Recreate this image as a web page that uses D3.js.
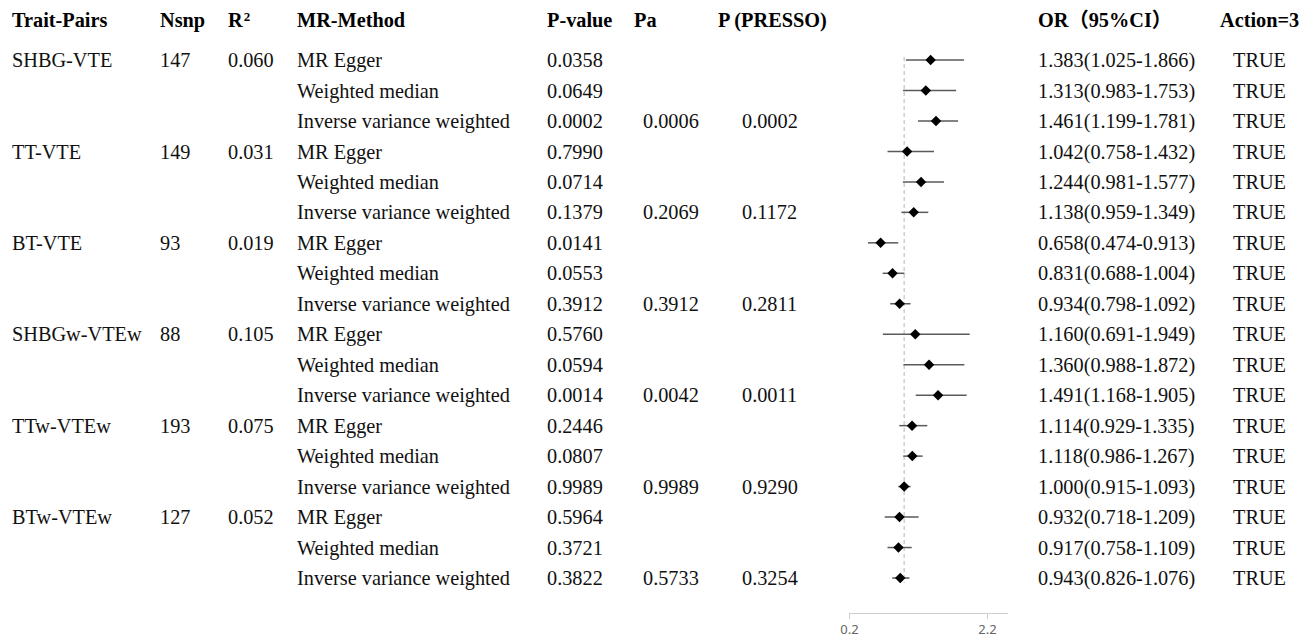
<!DOCTYPE html>
<html>
<head>
<meta charset="utf-8">
<script src="https://cdn.jsdelivr.net/npm/d3@7"></script>
<style>
  body { margin: 0; background: #fff; }
  svg { display: block; }
</style>
</head>
<body>
<div id="chart-container"></div>
<script>
const traitPairs = ["SHBG-VTE", "TT-VTE", "BT-VTE", "SHBGw-VTEw", "TTw-VTEw", "BTw-VTEw"];
const nsnp = ["147", "149", "93", "88", "193", "127"];
const r2 = ["0.060", "0.031", "0.019", "0.105", "0.075", "0.052"];
const methods = ["MR Egger", "Weighted median", "Inverse variance weighted"];
const pValues = ["0.0358","0.0649","0.0002","0.7990","0.0714","0.1379","0.0141","0.0553","0.3912",
                 "0.5760","0.0594","0.0014","0.2446","0.0807","0.9989","0.5964","0.3721","0.3822"];
const pa = ["0.0006", "0.2069", "0.3912", "0.0042", "0.9989", "0.5733"];
const presso = ["0.0002", "0.1172", "0.2811", "0.0011", "0.9290", "0.3254"];
const orValues = [1.383,1.313,1.461,1.042,1.244,1.138,0.658,0.831,0.934,1.160,1.360,1.491,1.114,1.118,1.000,0.932,0.917,0.943];
const ciLower = [1.025,0.983,1.199,0.758,0.981,0.959,0.474,0.688,0.798,0.691,0.988,1.168,0.929,0.986,0.915,0.718,0.758,0.826];
const ciUpper = [1.866,1.753,1.781,1.432,1.577,1.349,0.913,1.004,1.092,1.949,1.872,1.905,1.335,1.267,1.093,1.209,1.109,1.076];
const action = "TRUE";
const axisTicks = [0.2, 2.2];

const chartWidth = 1309;
const chartHeight = 641;
const serif = "'Liberation Serif', 'Times New Roman', 'Noto Sans CJK SC', serif";

const svg = d3.select("#chart-container")
    .append("svg")
    .attr("width", chartWidth)
    .attr("height", chartHeight)
    .style("font-family", serif)
    .style("font-size", "20.3px");

// one row per trait-pair x method
const rows = [];
traitPairs.forEach((tp, i) => {
    methods.forEach((m, j) => {
        const k = i * 3 + j;
        rows.push({
            pair: j === 0 ? tp : "",
            nsnp: j === 0 ? nsnp[i] : "",
            r2: j === 0 ? r2[i] : "",
            method: m,
            p: pValues[k],
            pa: j === 2 ? pa[i] : "",
            presso: j === 2 ? presso[i] : "",
            or: orValues[k],
            lo: ciLower[k],
            hi: ciUpper[k]
        });
    });
});

const yScale = d3.scalePoint()
    .domain(d3.range(rows.length))
    .range([60, 578]);

const xScale = d3.scaleLinear()
    .domain([0.2, 2.5])
    .range([849, 1007.7]);

// header
const headerY = 20;
const header = svg.append("g").attr("font-weight", "bold");
const headers = [
    { x: 12, t: "Trait-Pairs" },
    { x: 160, t: "Nsnp" },
    { x: 297, t: "MR-Method" },
    { x: 547, t: "P-value" },
    { x: 634, t: "Pa" },
    { x: 718, t: "P (PRESSO)" },
    { x: 1038, t: "OR（95%CI）" },
    { x: 1220, t: "Action=3" }
];
header.selectAll("text.h")
    .data(headers)
    .enter().append("text")
    .attr("class", "h")
    .attr("x", d => d.x)
    .attr("y", headerY)
    .attr("dy", "0.35em")
    .text(d => d.t);

const rHead = header.append("text")
    .attr("x", 228)
    .attr("y", headerY)
    .attr("dy", "0.35em");
rHead.append("tspan").text("R");
rHead.append("tspan")
    .attr("dy", "-0.5em")
    .attr("dx", "1")
    .style("font-size", "13px")
    .text("2");

// table columns
const cols = [
    { x: 12, key: "pair" },
    { x: 160, key: "nsnp" },
    { x: 228, key: "r2" },
    { x: 297, key: "method" },
    { x: 547, key: "p" },
    { x: 643, key: "pa" },
    { x: 742, key: "presso" },
    { x: 1038, key: "orText" },
    { x: 1233, key: "action" }
];
rows.forEach(r => {
    r.orText = `${r.or.toFixed(3)}(${r.lo.toFixed(3)}-${r.hi.toFixed(3)})`;
    r.action = action;
});

const body = svg.append("g").attr("fill", "#111");
cols.forEach(c => {
    body.selectAll(null)
        .data(rows.map((r, i) => ({ i, t: r[c.key] })).filter(d => d.t !== ""))
        .enter().append("text")
        .attr("x", c.x)
        .attr("y", d => yScale(d.i))
        .attr("dy", "0.35em")
        .text(d => d.t);
});

// reference line at OR = 1
svg.append("line")
    .attr("x1", xScale(1))
    .attr("x2", xScale(1))
    .attr("y1", yScale(0) - 3)
    .attr("y2", yScale(rows.length - 1) + 5)
    .attr("stroke", "#cfcfcf")
    .attr("stroke-width", 1.5)
    .attr("stroke-dasharray", "4,3");

// confidence intervals
svg.selectAll(".ci")
    .data(rows)
    .enter().append("line")
    .attr("class", "ci")
    .attr("x1", d => xScale(d.lo))
    .attr("x2", d => xScale(d.hi))
    .attr("y1", (d, i) => yScale(i))
    .attr("y2", (d, i) => yScale(i))
    .attr("stroke", "#5a5a5a")
    .attr("stroke-width", 1.5);

// point estimates
svg.selectAll(".pt")
    .data(rows)
    .enter().append("path")
    .attr("class", "pt")
    .attr("d", d3.symbol(d3.symbolSquare, 55))
    .attr("transform", (d, i) => `translate(${xScale(d.or)},${yScale(i)}) rotate(45)`)
    .attr("fill", "#000");

// x axis
const xAxis = d3.axisBottom(xScale)
    .tickValues(axisTicks)
    .tickSize(6)
    .tickSizeOuter(0)
    .tickPadding(6)
    .tickFormat(d3.format(".1f"));

const gx = svg.append("g")
    .attr("transform", "translate(0, 613)")
    .call(xAxis);
gx.select(".domain").attr("stroke", "#cfcfcf");
gx.selectAll(".tick line").attr("stroke", "#cfcfcf");
gx.selectAll(".tick text")
    .attr("fill", "#666")
    .style("font-family", "'Noto Sans', 'DejaVu Sans', sans-serif")
    .style("font-size", "13px");
</script>
</body>
</html>
